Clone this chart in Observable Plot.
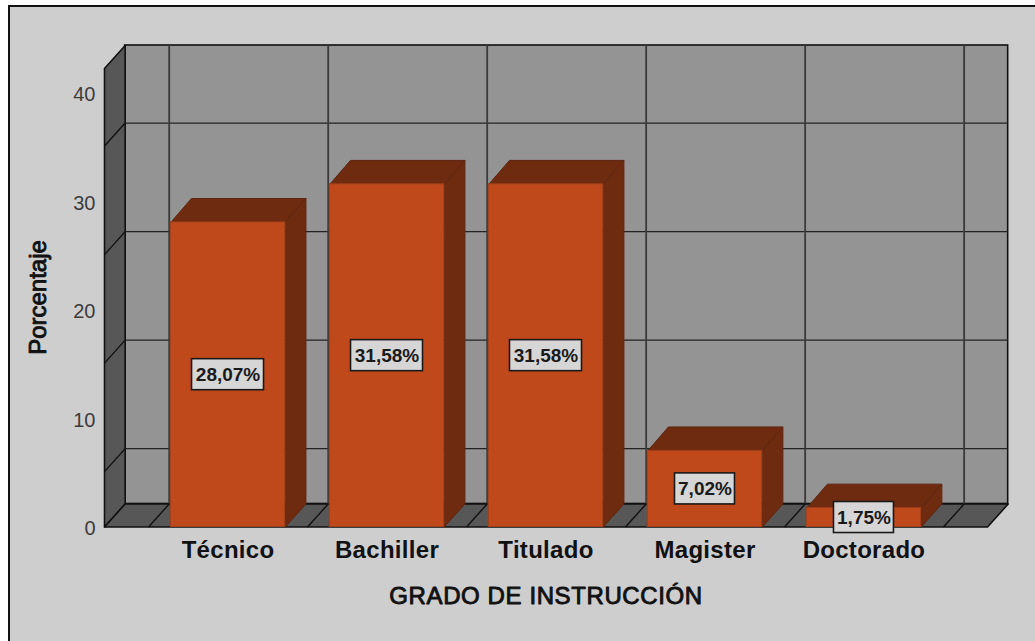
<!DOCTYPE html>
<html><head><meta charset="utf-8">
<script src="https://cdn.jsdelivr.net/npm/d3@7"></script>
<script src="https://cdn.jsdelivr.net/npm/@observablehq/plot@0.6"></script>
<style>
html,body{margin:0;padding:0;background:#fff;width:1035px;height:641px;overflow:hidden}
#panel{position:absolute;left:8px;top:5px;right:0;bottom:0;background:#cecece;border-left:2px solid #111;border-top:2px solid #111}
#chart{position:absolute;left:0;top:0}
svg{background:transparent!important;overflow:visible}
.cat text{letter-spacing:.3px}
.tit text{letter-spacing:.6px}
</style></head><body>
<div id="panel"></div><div id="chart"></div>
<script>
const categorias = ["Técnico","Bachiller","Titulado","Magister","Doctorado"];
const porcentajes = [28.07,31.58,31.58,7.02,1.75];
const etiquetas = ["28,07%","31,58%","31,58%","7,02%","1,75%"];
const marcasY = [0,10,20,30,40];
const rejillaY = [5.1,15.1,25.1,35.1];
const rejillaX = [0,1,2,3,4,5];
const tituloX = "GRADO DE INSTRUCCIÓN";
const tituloY = "Porcentaje";

const xMin=-0.277, xMax=5.277, yMax=42.25, dX=0.13, dY=2.12, barDY=2.2, half=0.36;
const bars = categorias.map((c,i)=>({c,i,v:porcentajes[i],l:etiquetas[i],cx:i+0.5}));
const poly = (id,pts)=>[...pts,pts[0]].map(([x,y])=>({id,x,y}));
const walls = [
  ...poly("side",[[xMin,0],[xMin+dX,dY],[xMin+dX,yMax+dY],[xMin,yMax]]),
  ...poly("floor",[[xMin,0],[xMax,0],[xMax+dX,dY],[xMin+dX,dY]])
];
const back = [{x1:xMin+dX,x2:xMax+dX,y1:dY,y2:yMax+dY}];
const barTops = bars.flatMap(b=>poly("t"+b.i,[[b.cx-half,b.v],[b.cx+half,b.v],[b.cx+half+dX,b.v+barDY],[b.cx-half+dX,b.v+barDY]]));
const barSides = bars.flatMap(b=>poly("s"+b.i,[[b.cx+half,0],[b.cx+half+dX,dY],[b.cx+half+dX,b.v+barDY],[b.cx+half,b.v]]));
const lx = w => w.length*6/159;

const plot = Plot.plot({
  width:1035,height:641,marginLeft:104,marginRight:48,marginTop:68,marginBottom:114.5,
  style:{fontFamily:"'Liberation Sans',Arial,sans-serif",background:"transparent"},
  x:{type:"linear",domain:[xMin,xMax],axis:null},
  y:{type:"linear",domain:[0,yMax],axis:null},
  marks:[
    Plot.rect(back,{x1:"x1",x2:"x2",y1:"y1",y2:"y2",fill:"#949494",stroke:"#111",strokeWidth:1.6}),
    Plot.line(walls,{x:"x",y:"y",z:"id",fill:"#575757",stroke:"#111",strokeWidth:1.6,curve:"linear"}),
    Plot.ruleY(rejillaY,{y:d=>d+dY,x1:xMin+dX,x2:xMax+dX,stroke:"#222",strokeWidth:1.4}),
    Plot.link(rejillaY,{x1:xMin,y1:d=>d,x2:xMin+dX,y2:d=>d+dY,stroke:"#111",strokeWidth:1.4}),
    Plot.ruleX(rejillaX,{x:d=>d+dX,y1:dY,y2:yMax+dY,stroke:"#3a3a3a",strokeWidth:1.8}),
    Plot.link(rejillaX,{x1:d=>d,y1:0,x2:d=>d+dX,y2:dY,stroke:"#111",strokeWidth:1.4}),
    Plot.line(barTops,{x:"x",y:"y",z:"id",fill:"#6e2b10",stroke:"#5f2610",strokeWidth:1,curve:"linear"}),
    Plot.line(barSides,{x:"x",y:"y",z:"id",fill:"#6e2b10",stroke:"#5f2610",strokeWidth:1,curve:"linear"}),
    Plot.rect(bars,{x1:d=>d.cx-half,x2:d=>d.cx+half,y1:0,y2:"v",fill:"#c0491b",stroke:"#9c3f1a",strokeWidth:1}),
    Plot.rect(bars,{x1:d=>d.cx-lx(d.l),x2:d=>d.cx+lx(d.l),y1:d=>d.v/2-1.43,y2:d=>d.v/2+1.43,fill:"#d6d6d6",stroke:"#1a1a1a",strokeWidth:1.6}),
    Plot.text(bars,{x:"cx",y:d=>d.v/2,text:"l",fontSize:19,fontWeight:"bold",fill:"#1a1a1a",textAnchor:"middle",lineAnchor:"middle"}),
    Plot.axisY({ticks:marcasY,tickSize:0,tickPadding:9,dy:2,fontSize:20,label:null,anchor:"left",color:"#3c3c3c"}),
    Plot.text(bars,{x:"cx",y:0,text:"c",dy:23,fontSize:24,fontWeight:"bold",fill:"#111",textAnchor:"middle",lineAnchor:"middle",className:"cat"}),
    Plot.text([tituloX],{x:(xMin+xMax)/2,y:0,text:d=>d,dy:69,fontSize:24,fill:"#111",stroke:"#111",strokeWidth:.9,lineAnchor:"middle",className:"tit"}),
    Plot.text([tituloY],{x:xMin,y:21.15,dx:-66,text:d=>d,rotate:-90,fontSize:24,fill:"#111",stroke:"#111",strokeWidth:.9,lineAnchor:"middle"})
  ]
});
document.getElementById("chart").appendChild(plot);
</script></body></html>
